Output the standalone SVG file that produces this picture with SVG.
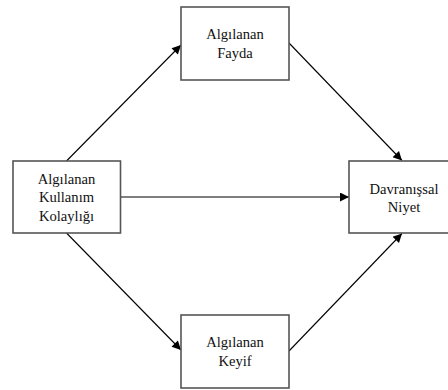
<svg xmlns="http://www.w3.org/2000/svg" width="448" height="390" viewBox="0 0 448 390">
  <defs>
    <style>
      .box { fill: #ffffff; stroke: #555555; stroke-width: 1.6; }
      .lbl { font-family: "Liberation Serif", "Times New Roman", serif; font-size: 14.6px; fill: #111111; text-anchor: middle; }
      .edge { stroke: #000000; stroke-width: 1.1; fill: none; marker-end: url(#arrow); }
    </style>
    <marker id="arrow" viewBox="0 0 10 10" refX="10" refY="5" markerWidth="11" markerHeight="9" markerUnits="userSpaceOnUse" orient="auto">
      <path d="M0,0 L10,5 L0,10 z" fill="#000000"/>
    </marker>
  </defs>
  <rect width="448" height="390" fill="#ffffff"/>

  <g id="connectors">
    <line class="edge" x1="66.5" y1="161" x2="181" y2="45"/>
    <line class="edge" x1="66.5" y1="233" x2="181" y2="350"/>
    <line class="edge" x1="120.5" y1="197" x2="349" y2="197"/>
    <line class="edge" x1="289" y1="43" x2="402" y2="160.5"/>
    <line class="edge" x1="289" y1="351" x2="402" y2="233.5"/>
  </g>

  <g id="kullanim-kolayligi">
    <rect class="box" x="13" y="161" width="107.5" height="72"/>
    <text class="lbl" x="66.5" y="183.5">Algılanan</text>
    <text class="lbl" x="66.5" y="202">Kullanım</text>
    <text class="lbl" x="66.5" y="220.5">Kolaylığı</text>
  </g>

  <g id="fayda">
    <rect class="box" x="181" y="7" width="108" height="73"/>
    <text class="lbl" x="235" y="39">Algılanan</text>
    <text class="lbl" x="235" y="57.5">Fayda</text>
  </g>

  <g id="keyif">
    <rect class="box" x="181" y="315" width="108" height="73"/>
    <text class="lbl" x="235" y="347">Algılanan</text>
    <text class="lbl" x="235" y="365.5">Keyif</text>
  </g>

  <g id="davranissal-niyet">
    <rect class="box" x="349" y="161" width="110" height="72"/>
    <text class="lbl" x="404" y="193.5">Davranışsal</text>
    <text class="lbl" x="404" y="212">Niyet</text>
  </g>
</svg>
